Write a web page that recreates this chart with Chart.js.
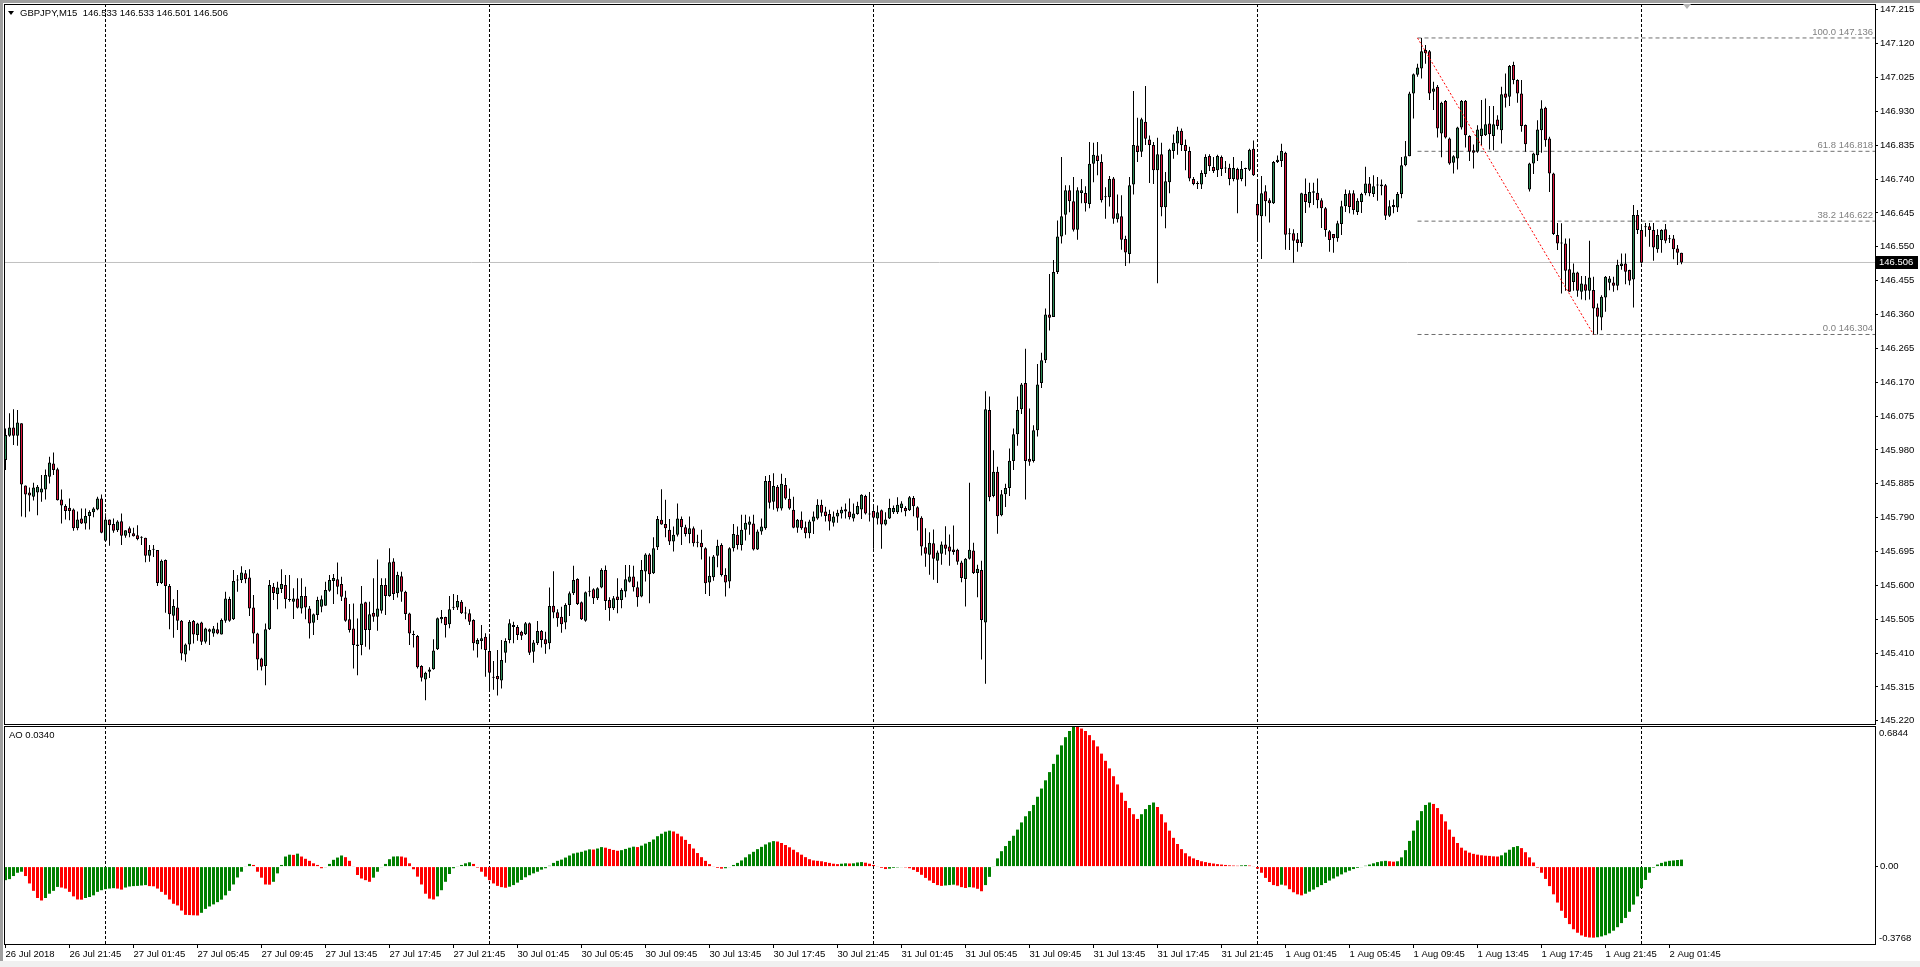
<!DOCTYPE html>
<html>
<head>
<meta charset="utf-8">
<title>GBPJPY,M15</title>
<script src="https://cdn.jsdelivr.net/npm/chart.js@4.4.1/dist/chart.umd.min.js"></script>
<style>
  html, body { margin: 0; padding: 0; background: #fff; }
  body { width: 1920px; height: 967px; position: relative; overflow: hidden; font-family: "Liberation Sans", Arial, sans-serif; }
  .abs { position: absolute; }
  #edgeTop { left: 0; top: 0; width: 1920px; height: 3px; background: #a0a0a0; }
  #edgeLeft { left: 0; top: 0; width: 3px; height: 967px; background: #a0a0a0; }
  #edgeBottom { left: 0; top: 961px; width: 1920px; height: 6px; background: #f0f0f0; }
  #priceBox { left: 0; top: 0; width: 1920px; height: 725px; }
  #aoBox { left: 0; top: 725px; width: 1920px; height: 242px; }
  .frame { border: 1px solid #000; box-sizing: border-box; pointer-events: none; }
  .txt { font-size: 9.5px; line-height: 12px; color: #000; white-space: pre; }
</style>
</head>
<body>
<div id="edgeTop" class="abs"></div>
<div id="edgeLeft" class="abs"></div>
<div id="edgeBottom" class="abs"></div>
<div id="priceBox" class="abs"><canvas id="priceChart"></canvas></div>
<div id="aoBox" class="abs"><canvas id="aoChart"></canvas></div>
<div class="abs frame" style="left:4px;top:4px;width:1872px;height:721px"></div>
<div class="abs frame" style="left:4px;top:726px;width:1872px;height:219px"></div>
<div class="abs" style="left:8px;top:11px;width:0;height:0;border-left:3.5px solid transparent;border-right:3.5px solid transparent;border-top:4px solid #000"></div>
<div class="abs txt" style="left:20px;top:7px">GBPJPY,M15  146.533 146.533 146.501 146.506</div>
<div class="abs txt" style="left:9px;top:729px">AO 0.0340</div>
<div class="abs" style="left:1683px;top:4px;width:0;height:0;border-left:4px solid transparent;border-right:4px solid transparent;border-top:5px solid #b4b4b4"></div>
<script>
  // -----------------------------
  // データ（M15 バー 0 = 26 Jul 17:45）
  // -----------------------------
  const opens = [
    145.952,146.020,146.043,146.020,146.055,145.880,145.861,145.849,145.861,145.861,
    145.869,145.905,145.942,145.926,145.841,145.823,145.818,145.813,145.760,145.788,
    145.774,145.795,145.805,145.813,145.844,145.725,145.785,145.772,145.755,145.780,
    145.739,145.760,145.746,145.741,145.735,145.734,145.683,145.700,145.699,145.607,
    145.671,145.598,145.515,145.538,145.501,145.406,145.434,145.500,145.461,145.496,
    145.442,145.477,145.465,145.477,145.462,145.501,145.562,145.505,145.614,145.615,
    145.634,145.622,145.538,145.465,145.395,145.374,145.477,145.596,145.576,145.590,
    145.601,145.560,145.554,145.563,145.535,145.570,145.535,145.495,145.517,145.540,
    145.543,145.585,145.612,145.617,145.604,145.566,145.505,145.479,145.434,145.433,
    145.553,145.475,145.523,145.512,145.529,145.601,145.570,145.667,145.578,145.626,
    145.582,145.521,145.462,145.458,145.374,145.336,145.358,145.365,145.421,145.505,
    145.511,145.491,145.537,145.538,145.554,145.522,145.522,145.503,145.435,145.444,
    145.456,145.416,145.342,145.346,145.333,145.411,145.447,145.489,145.483,145.470,
    145.463,145.494,145.414,145.438,145.472,145.449,145.438,145.543,145.525,145.512,
    145.496,145.545,145.578,145.618,145.553,145.501,145.582,145.589,145.564,145.594,
    145.643,145.559,145.536,145.569,145.559,145.583,145.610,145.625,145.595,145.569,
    145.639,145.687,145.634,145.707,145.784,145.772,145.756,145.723,145.742,145.786,
    145.763,145.744,145.760,145.720,145.720,145.704,145.608,145.623,145.683,145.713,
    145.629,145.611,145.704,145.742,145.713,145.756,145.770,145.774,145.701,145.751,
    145.760,145.893,145.835,145.877,145.816,145.882,145.843,145.812,145.762,145.784,
    145.763,145.746,145.779,145.788,145.826,145.807,145.800,145.776,145.793,145.802,
    145.814,145.807,145.788,145.800,145.813,145.851,145.800,145.809,145.788,145.811,
    145.771,145.788,145.805,145.805,145.817,145.817,145.811,145.845,145.819,145.790,
    145.707,145.686,145.718,145.669,145.689,145.715,145.709,145.701,145.700,145.664,
    145.618,145.675,145.698,145.635,145.643,145.496,146.092,145.851,145.919,145.797,
    145.856,145.873,145.949,146.024,146.094,146.168,145.955,145.949,146.035,146.168,
    146.232,146.360,146.353,146.479,146.579,146.640,146.709,146.678,146.598,146.701,
    146.701,146.670,146.783,146.806,146.788,146.689,146.689,146.742,146.627,146.636,
    146.572,146.530,146.725,146.834,146.817,146.901,146.851,146.836,146.765,146.810,
    146.661,146.731,146.819,146.840,146.876,146.836,146.819,146.740,146.726,146.725,
    146.754,146.805,146.774,146.765,146.802,146.771,146.772,146.740,146.768,146.740,
    146.768,146.766,146.825,146.670,146.636,146.706,146.681,146.672,146.788,146.791,
    146.814,146.588,146.588,146.571,146.561,146.698,146.673,146.702,146.702,146.681,
    146.658,146.594,146.586,146.574,146.614,146.664,146.700,146.700,146.648,146.676,
    146.700,146.728,146.698,146.723,146.720,146.723,146.637,146.662,146.660,146.698,
    146.779,146.804,146.980,147.033,147.050,147.102,147.099,146.985,146.999,146.868,
    146.959,146.854,146.786,146.798,146.885,146.960,146.861,146.821,146.817,146.861,
    146.863,146.896,146.861,146.907,146.877,146.980,146.971,147.060,147.018,146.980,
    146.892,146.711,146.784,146.807,146.877,146.940,146.854,146.756,146.583,146.560,
    146.559,146.487,146.451,146.478,146.424,146.445,146.427,146.429,146.380,146.352,
    146.408,146.449,146.450,146.441,146.496,146.503,146.485,146.458,146.639,146.597,
    146.605,146.608,146.597,146.543,146.569,146.599,146.571,146.573,146.545,146.533
  ];
  const highs = [
    146.040,146.083,146.094,146.092,146.055,145.880,145.875,145.888,145.882,145.910,
    145.925,145.961,145.973,145.930,145.869,145.828,145.844,145.816,145.807,145.816,
    145.816,145.811,145.819,145.849,145.855,145.802,145.785,145.788,145.783,145.802,
    145.755,145.765,145.762,145.769,145.738,145.734,145.713,145.713,145.699,145.673,
    145.673,145.604,145.561,145.587,145.503,145.437,145.503,145.503,145.495,145.498,
    145.481,145.479,145.486,145.495,145.507,145.582,145.568,145.643,145.629,145.654,
    145.643,145.645,145.573,145.467,145.397,145.493,145.615,145.607,145.610,145.645,
    145.629,145.629,145.592,145.620,145.620,145.596,145.542,145.521,145.568,145.572,
    145.610,145.629,145.632,145.664,145.624,145.585,145.548,145.549,145.507,145.598,
    145.554,145.554,145.620,145.673,145.620,145.620,145.704,145.676,145.638,145.638,
    145.585,145.523,145.473,145.461,145.376,145.358,145.370,145.449,145.510,145.531,
    145.512,145.570,145.576,145.573,145.559,145.540,145.533,145.505,145.452,145.489,
    145.466,145.464,145.388,145.419,145.447,145.452,145.505,145.498,145.489,145.473,
    145.497,145.496,145.447,145.500,145.475,145.470,145.594,145.640,145.533,145.540,
    145.550,145.583,145.655,145.620,145.555,145.583,145.625,145.592,145.595,145.648,
    145.656,145.567,145.570,145.620,145.592,145.657,145.657,145.655,145.611,145.671,
    145.690,145.690,145.735,145.795,145.870,145.840,145.786,145.765,145.830,145.793,
    145.770,145.793,145.765,145.742,145.756,145.707,145.681,145.685,145.728,145.718,
    145.648,145.707,145.772,145.765,145.798,145.798,145.793,145.798,145.757,145.788,
    145.907,145.910,145.915,145.882,145.913,145.901,145.872,145.849,145.786,145.807,
    145.779,145.784,145.807,145.842,145.840,145.821,145.812,145.807,145.812,145.821,
    145.830,145.844,145.830,145.835,145.856,145.854,145.862,145.828,145.824,145.813,
    145.805,145.843,145.824,145.847,145.836,145.822,145.851,145.851,145.822,145.794,
    145.760,145.749,145.757,145.698,145.723,145.766,145.743,145.768,145.703,145.669,
    145.677,145.888,145.720,145.658,145.669,146.145,146.130,145.979,145.933,145.868,
    145.885,145.984,146.040,146.130,146.168,146.264,146.096,146.049,146.221,146.253,
    146.377,146.474,146.513,146.624,146.802,146.723,146.723,146.746,146.717,146.740,
    146.720,146.844,146.842,146.844,146.810,146.717,146.749,146.746,146.697,146.695,
    146.581,146.746,146.987,146.912,146.912,147.001,146.862,146.844,146.856,146.842,
    146.760,146.825,146.865,146.887,146.882,146.851,146.831,146.746,146.734,146.765,
    146.810,146.810,146.802,146.808,146.806,146.791,146.783,146.802,146.772,146.791,
    146.772,146.825,146.848,146.740,146.749,146.723,146.686,146.791,146.806,146.839,
    146.817,146.602,146.599,146.589,146.702,146.742,146.730,146.730,146.742,146.686,
    146.662,146.597,146.586,146.623,146.679,146.711,146.709,146.709,146.686,146.702,
    146.775,146.746,146.751,146.746,146.739,146.726,146.681,146.683,146.704,146.802,
    146.847,146.985,147.036,147.064,147.136,147.116,147.102,147.013,147.004,146.957,
    146.962,146.857,146.807,146.887,146.962,146.962,146.863,146.837,146.891,146.962,
    146.966,146.945,146.945,146.919,146.999,147.036,147.060,147.069,147.020,147.018,
    146.893,146.786,146.814,146.905,146.961,146.943,146.859,146.758,146.617,146.616,
    146.573,146.573,146.503,146.480,146.468,146.468,146.567,146.466,146.391,146.414,
    146.468,146.468,146.466,146.514,146.531,146.531,146.486,146.667,146.653,146.608,
    146.617,146.617,146.617,146.599,146.599,146.614,146.583,146.583,146.555,146.533
  ];
  const lows = [
    145.924,146.017,145.994,145.992,145.793,145.791,145.807,145.838,145.797,145.835,
    145.841,145.886,145.910,145.838,145.774,145.785,145.783,145.753,145.755,145.772,
    145.757,145.757,145.791,145.811,145.746,145.725,145.711,145.748,145.750,145.713,
    145.734,145.735,145.737,145.727,145.713,145.665,145.666,145.680,145.598,145.604,
    145.523,145.477,145.453,145.475,145.390,145.386,145.417,145.437,145.445,145.433,
    145.437,145.433,145.456,145.463,145.462,145.495,145.498,145.503,145.582,145.607,
    145.606,145.514,145.437,145.362,145.361,145.320,145.475,145.559,145.533,145.579,
    145.535,145.554,145.506,145.535,145.521,145.505,145.451,145.461,145.503,145.525,
    145.543,145.582,145.548,145.575,145.556,145.498,145.468,145.367,145.348,145.404,
    145.428,145.420,145.498,145.473,145.521,145.517,145.568,145.559,145.566,145.554,
    145.503,145.433,145.426,145.367,145.330,145.278,145.340,145.363,145.419,145.494,
    145.454,145.480,145.531,145.531,145.520,145.505,145.489,145.417,145.398,145.421,
    145.344,145.309,145.307,145.291,145.311,145.383,145.438,145.438,145.447,145.447,
    145.461,145.405,145.383,145.433,145.426,145.408,145.421,145.508,145.484,145.467,
    145.477,145.514,145.573,145.545,145.503,145.498,145.569,145.548,145.559,145.592,
    145.531,145.501,145.531,145.522,145.536,145.567,145.608,145.583,145.540,145.567,
    145.611,145.550,145.632,145.699,145.770,145.735,145.713,145.695,145.737,145.713,
    145.737,145.718,145.709,145.707,145.673,145.576,145.570,145.613,145.651,145.625,
    145.569,145.592,145.695,145.701,145.698,145.726,145.742,145.698,145.699,145.742,
    145.756,145.816,145.812,145.807,145.810,145.840,145.812,145.760,145.748,145.756,
    145.732,145.732,145.744,145.784,145.793,145.779,145.754,145.765,145.776,145.788,
    145.788,145.785,145.779,145.798,145.786,145.799,145.779,145.703,145.771,145.703,
    145.768,145.786,145.800,145.800,145.805,145.794,145.809,145.794,145.754,145.684,
    145.652,145.630,145.616,145.607,145.658,145.686,145.655,145.686,145.658,145.609,
    145.541,145.673,145.632,145.567,145.392,145.324,145.836,145.847,145.745,145.794,
    145.820,145.851,145.924,145.992,146.081,145.841,145.936,145.945,146.018,146.154,
    146.224,146.315,146.353,146.474,146.559,146.584,146.647,146.593,146.570,146.672,
    146.649,146.658,146.731,146.751,146.674,146.629,146.663,146.615,146.618,146.542,
    146.496,146.504,146.697,146.788,146.802,146.836,146.729,146.726,146.448,146.636,
    146.602,146.700,146.797,146.808,146.819,146.765,146.734,146.723,146.712,146.712,
    146.746,146.763,146.757,146.746,146.749,146.757,146.723,146.734,146.644,146.734,
    146.720,146.763,146.749,146.564,146.516,146.636,146.618,146.670,146.785,146.774,
    146.542,146.541,146.505,146.536,146.550,146.645,146.660,146.667,146.658,146.603,
    146.578,146.536,146.533,146.564,146.583,146.648,146.644,146.641,146.639,146.645,
    146.695,146.692,146.690,146.679,146.695,146.625,146.634,146.644,146.648,146.686,
    146.776,146.804,146.910,147.027,147.022,147.064,146.962,146.934,146.857,146.801,
    146.854,146.780,146.756,146.767,146.879,146.829,146.791,146.770,146.814,146.835,
    146.861,146.823,146.821,146.879,146.840,146.941,146.945,147.006,146.954,146.873,
    146.817,146.705,146.754,146.791,146.814,146.831,146.704,146.583,146.541,146.419,
    146.427,146.424,146.427,146.410,146.402,146.400,146.402,146.304,146.304,146.316,
    146.368,146.428,146.424,146.428,146.486,146.445,146.442,146.380,146.586,146.503,
    146.578,146.550,146.511,146.533,146.533,146.560,146.561,146.515,146.499,146.501
  ];
  const closes = [
    146.022,146.043,146.020,146.057,145.883,145.855,145.852,145.875,145.877,145.872,
    145.910,145.945,145.924,145.839,145.824,145.809,145.809,145.760,145.785,145.774,
    145.795,145.806,145.816,145.844,145.748,145.785,145.769,145.753,145.779,145.739,
    145.755,145.746,145.738,145.730,145.734,145.683,145.699,145.701,145.607,145.669,
    145.598,145.519,145.542,145.501,145.409,145.434,145.498,145.462,145.493,145.442,
    145.479,145.470,145.479,145.465,145.503,145.563,145.501,145.612,145.615,145.636,
    145.617,145.535,145.465,145.392,145.372,145.477,145.601,145.579,145.594,145.604,
    145.561,145.559,145.563,145.537,145.570,145.538,145.493,145.519,145.559,145.561,
    145.587,145.615,145.621,145.596,145.568,145.501,145.475,145.433,145.430,145.549,
    145.475,145.519,145.512,145.535,145.601,145.570,145.665,145.576,145.629,145.582,
    145.520,145.465,145.461,145.370,145.341,145.355,145.364,145.417,145.508,145.511,
    145.489,145.533,145.538,145.556,145.522,145.521,145.498,145.438,145.447,145.452,
    145.419,145.355,145.341,145.337,145.391,145.444,145.494,145.483,145.461,145.459,
    145.494,145.411,145.440,145.472,145.447,145.435,145.542,145.524,145.508,145.491,
    145.545,145.578,145.615,145.548,145.505,145.581,145.583,145.564,145.592,145.643,
    145.556,145.536,145.564,145.559,145.587,145.617,145.625,145.595,145.567,145.643,
    145.687,145.631,145.704,145.786,145.771,145.760,145.723,145.742,145.788,145.763,
    145.744,145.760,145.718,145.721,145.707,145.606,145.627,145.681,145.711,145.629,
    145.608,145.704,145.744,145.713,145.756,145.776,145.779,145.701,145.751,145.765,
    145.893,145.832,145.879,145.816,145.885,145.844,145.816,145.762,145.784,145.760,
    145.746,145.779,145.793,145.826,145.804,145.795,145.779,145.793,145.804,145.812,
    145.807,145.791,145.802,145.823,145.854,145.802,145.799,145.790,145.805,145.771,
    145.785,145.817,145.817,145.826,145.830,145.808,145.847,145.822,145.790,145.709,
    145.689,145.720,145.675,145.692,145.715,145.703,145.695,145.694,145.666,145.621,
    145.675,145.700,145.635,145.647,145.503,146.094,145.847,145.919,145.794,145.856,
    145.873,145.950,146.024,146.092,146.164,145.949,145.947,146.035,146.164,146.232,
    146.360,146.351,146.479,146.579,146.636,146.709,146.678,146.598,146.709,146.709,
    146.672,146.783,146.808,146.791,146.681,146.690,146.740,146.629,146.644,146.570,
    146.534,146.723,146.836,146.816,146.908,146.853,146.836,146.765,146.810,146.661,
    146.734,146.822,146.842,146.876,146.836,146.819,146.742,146.726,146.727,146.757,
    146.802,146.776,146.763,146.805,146.768,146.770,146.740,146.771,146.738,146.768,
    146.769,146.822,146.751,146.638,146.700,146.678,146.672,146.788,146.794,146.819,
    146.584,146.585,146.567,146.561,146.700,146.676,146.704,146.706,146.681,146.658,
    146.597,146.569,146.574,146.616,146.664,146.698,146.662,146.653,146.679,146.698,
    146.728,146.700,146.720,146.722,146.725,146.637,146.664,146.667,146.698,146.779,
    146.804,146.980,147.034,147.053,147.099,147.093,146.980,146.994,146.882,146.954,
    146.857,146.784,146.804,146.885,146.959,146.863,146.817,146.814,146.879,146.882,
    146.894,146.866,146.894,146.889,146.978,146.968,147.057,147.018,146.980,146.889,
    146.838,146.784,146.812,146.879,146.938,146.849,146.756,146.586,146.559,146.559,
    146.483,146.424,146.478,146.427,146.447,146.427,146.464,146.377,146.354,146.410,
    146.466,146.461,146.441,146.500,146.503,146.480,146.455,146.639,146.597,146.505,
    146.606,146.597,146.548,146.583,146.597,146.567,146.572,146.543,146.533,146.506
  ];
  // Awesome Oscillator
  const aoValues = [
    -0.066,-0.061,-0.046,-0.030,-0.025,-0.046,-0.082,-0.118,-0.153,-0.165,
    -0.153,-0.132,-0.118,-0.099,-0.102,-0.107,-0.123,-0.145,-0.160,-0.161,
    -0.153,-0.148,-0.140,-0.123,-0.115,-0.110,-0.107,-0.105,-0.107,-0.112,
    -0.102,-0.097,-0.095,-0.094,-0.092,-0.090,-0.095,-0.096,-0.107,-0.123,
    -0.137,-0.160,-0.181,-0.189,-0.214,-0.235,-0.236,-0.237,-0.238,-0.225,
    -0.206,-0.194,-0.184,-0.173,-0.161,-0.140,-0.118,-0.087,-0.053,-0.025,
    0.003,0.013,0.008,-0.025,-0.054,-0.087,-0.088,-0.074,-0.033,0.008,
    0.049,0.058,0.057,0.063,0.049,0.038,0.028,0.016,0.008,-0.008,
    -0.003,0.013,0.033,0.044,0.054,0.046,0.028,0.003,-0.041,-0.058,
    -0.066,-0.074,-0.054,-0.025,-0.003,0.013,0.036,0.049,0.050,0.049,
    0.044,0.016,-0.013,-0.049,-0.087,-0.132,-0.156,-0.160,-0.145,-0.115,
    -0.074,-0.036,-0.008,0.003,0.008,0.016,0.021,0.013,-0.005,-0.025,
    -0.049,-0.066,-0.082,-0.094,-0.100,-0.103,-0.098,-0.090,-0.078,-0.065,
    -0.052,-0.042,-0.033,-0.025,-0.015,-0.008,0.004,0.018,0.028,0.034,
    0.044,0.054,0.064,0.068,0.072,0.078,0.084,0.083,0.088,0.095,
    0.092,0.086,0.081,0.077,0.080,0.086,0.092,0.097,0.095,0.102,
    0.112,0.120,0.132,0.148,0.160,0.170,0.175,0.171,0.160,0.147,
    0.130,0.110,0.088,0.066,0.046,0.028,0.012,0.002,-0.006,-0.010,
    -0.008,-0.002,0.008,0.018,0.030,0.045,0.060,0.072,0.085,0.096,
    0.108,0.118,0.124,0.122,0.115,0.105,0.094,0.082,0.070,0.058,
    0.046,0.036,0.030,0.028,0.026,0.022,0.018,0.014,0.012,0.014,
    0.016,0.015,0.016,0.020,0.022,0.019,0.014,0.008,0.002,-0.006,
    -0.012,-0.010,-0.006,-0.004,-0.002,-0.004,-0.008,-0.016,-0.026,-0.040,
    -0.055,-0.068,-0.080,-0.090,-0.094,-0.092,-0.090,-0.088,-0.092,-0.100,
    -0.104,-0.100,-0.102,-0.108,-0.120,-0.090,-0.050,0.002,0.040,0.075,
    0.100,0.125,0.150,0.180,0.215,0.245,0.270,0.300,0.340,0.380,
    0.420,0.460,0.500,0.545,0.590,0.630,0.660,0.684,0.680,0.672,
    0.660,0.640,0.615,0.585,0.550,0.515,0.478,0.440,0.400,0.360,
    0.320,0.285,0.255,0.232,0.255,0.280,0.300,0.312,0.290,0.255,
    0.215,0.175,0.140,0.110,0.085,0.065,0.050,0.040,0.032,0.026,
    0.022,0.018,0.015,0.012,0.010,0.008,0.006,0.005,0.004,0.006,
    0.007,0.005,0.003,-0.010,-0.030,-0.055,-0.075,-0.090,-0.095,-0.088,
    -0.092,-0.110,-0.125,-0.135,-0.140,-0.132,-0.122,-0.112,-0.100,-0.090,
    -0.080,-0.068,-0.058,-0.048,-0.038,-0.028,-0.020,-0.012,-0.006,-0.002,
    0.004,0.010,0.016,0.022,0.026,0.028,0.026,0.024,0.026,0.045,
    0.080,0.125,0.175,0.225,0.270,0.300,0.312,0.305,0.285,0.255,
    0.220,0.180,0.145,0.115,0.092,0.078,0.068,0.062,0.058,0.055,
    0.053,0.052,0.050,0.049,0.055,0.068,0.082,0.095,0.100,0.090,
    0.070,0.045,0.020,-0.005,-0.030,-0.060,-0.095,-0.135,-0.175,-0.215,
    -0.250,-0.280,-0.305,-0.322,-0.335,-0.342,-0.345,-0.346,-0.344,-0.340,
    -0.334,-0.325,-0.312,-0.295,-0.275,-0.250,-0.220,-0.185,-0.145,-0.105,
    -0.065,-0.030,-0.005,0.010,0.018,0.024,0.028,0.030,0.032,0.034
  ];

  // 軸ラベル
  const priceTicks = [145.220,145.315,145.410,145.505,145.600,145.695,145.790,145.885,145.980,146.075,146.170,
                      146.265,146.360,146.455,146.550,146.645,146.740,146.835,146.930,147.025,147.120,147.215];
  const timeTickIdx = [0,16,32,48,64,80,96,112,128,144,160,176,192,208,224,240,256,272,288,304,320,336,352,368,384,400,416];
  const timeLabels = ["26 Jul 2018","26 Jul 21:45","27 Jul 01:45","27 Jul 05:45","27 Jul 09:45","27 Jul 13:45","27 Jul 17:45",
                      "27 Jul 21:45","30 Jul 01:45","30 Jul 05:45","30 Jul 09:45","30 Jul 13:45","30 Jul 17:45","30 Jul 21:45",
                      "31 Jul 01:45","31 Jul 05:45","31 Jul 09:45","31 Jul 13:45","31 Jul 17:45","31 Jul 21:45",
                      "1 Aug 01:45","1 Aug 05:45","1 Aug 09:45","1 Aug 13:45","1 Aug 17:45","1 Aug 21:45","2 Aug 01:45"];
  const dayStartIdx = [25, 121, 217, 313, 409];

  // フィボナッチ
  const fibRatios = [100.0, 61.8, 38.2, 0.0];
  const fibPrices = [147.136, 146.818, 146.622, 146.304];
  const fibFromIdx = 353;
  const fibToIdx = 397;

  const priceMin = 145.2111, priceMax = 147.2313;
  const aoMin = -0.3768, aoMax = 0.6844;
  const lastPrice = closes[closes.length - 1];

  // -----------------------------
  // 共通設定
  // -----------------------------
  const xMin = -0.375, xMax = 467.375;
  const fontFamily = '"Liberation Sans", Arial, sans-serif';
  const axisFont = { family: fontFamily, size: 9.5 };
  const bullColor = "#2e8b57";
  const bearColor = "#dc143c";

  function sepAxis() {
    return {
      type: "linear", min: xMin, max: xMax, position: "bottom", offset: false,
      afterBuildTicks: s => { s.ticks = dayStartIdx.map(v => ({ value: v })); },
      afterFit: s => { s.height = 0; s.paddingLeft = 0; s.paddingRight = 0; },
      ticks: { display: false },
      grid: { display: true, offset: false, drawOnChartArea: true, drawTicks: false, color: "#000", lineWidth: 1 },
      border: { display: false, dash: [3, 2] }
    };
  }

  const baseOptions = {
    responsive: true,
    maintainAspectRatio: false,
    animation: false,
    devicePixelRatio: 1,
    events: [],
    plugins: { legend: { display: false }, tooltip: { enabled: false } }
  };

  // -----------------------------
  // ローソク足
  // -----------------------------
  const priceOverlay = {
    id: "priceOverlay",
    afterDraw(chart) {
      const { ctx, chartArea, scales } = chart;
      ctx.save();
      ctx.font = "9.5px " + fontFamily;
      ctx.fillStyle = "#808080";
      ctx.textAlign = "right";
      ctx.textBaseline = "bottom";
      fibRatios.forEach((r, k) => {
        const y = scales.y.getPixelForValue(fibPrices[k]);
        ctx.fillText(r.toFixed(1) + " " + fibPrices[k].toFixed(3), chartArea.right - 2, y - 1);
      });
      const py = Math.round(scales.y.getPixelForValue(lastPrice));
      ctx.fillStyle = "#000";
      ctx.fillRect(chartArea.right + 1, py - 6, 42, 13);
      ctx.fillStyle = "#fff";
      ctx.textAlign = "left";
      ctx.textBaseline = "middle";
      ctx.fillText(lastPrice.toFixed(3), chartArea.right + 4, py + 0.5);
      ctx.restore();
    }
  };

  const fibDatasets = fibPrices.map(p => ({
    type: "line",
    data: [{ x: fibFromIdx, y: p }, { x: xMax, y: p }],
    borderColor: "#6e6e6e", borderWidth: 1, borderDash: [4, 3],
    pointRadius: 0, order: 4, xAxisID: "x", yAxisID: "y"
  }));

  new Chart(document.getElementById("priceChart"), {
    type: "bar",
    data: {
      datasets: [
        {
          label: "body",
          data: closes.map((c, i) => ({ x: i, y: [opens[i], c] })),
          backgroundColor: closes.map((c, i) => c >= opens[i] ? bullColor : bearColor),
          borderColor: "#000", borderWidth: 1, borderSkipped: false,
          barThickness: 3, grouped: false, minBarLength: 1, inflateAmount: 0,
          order: 0, xAxisID: "x", yAxisID: "y"
        },
        {
          label: "wick",
          data: highs.map((h, i) => ({ x: i, y: [lows[i], h] })),
          backgroundColor: "#000",
          barThickness: 1, grouped: false, inflateAmount: 0,
          order: 1, xAxisID: "x", yAxisID: "y"
        },
        {
          type: "line",
          data: [{ x: xMin, y: lastPrice }, { x: xMax, y: lastPrice }],
          borderColor: "#c0c0c0", borderWidth: 1, pointRadius: 0,
          order: 5, xAxisID: "x", yAxisID: "y"
        },
        ...fibDatasets,
        {
          type: "line",
          data: [{ x: fibFromIdx, y: fibPrices[0] }, { x: fibToIdx, y: fibPrices[3] }],
          borderColor: "#ff0000", borderWidth: 1, borderDash: [2, 2],
          pointRadius: 0, order: -1, xAxisID: "x", yAxisID: "y"
        }
      ]
    },
    options: {
      ...baseOptions,
      layout: { padding: { left: 4, top: 4, right: 0, bottom: 1 } },
      scales: {
        x: { type: "linear", min: xMin, max: xMax, display: false, offset: false },
        sep: sepAxis(),
        y: {
          position: "right", min: priceMin, max: priceMax,
          afterBuildTicks: s => { s.ticks = priceTicks.map(v => ({ value: v })); },
          afterFit: s => { s.width = 45; s.paddingTop = 0; s.paddingBottom = 0; },
          ticks: { callback: v => Number(v).toFixed(3), color: "#000", font: axisFont, padding: 2, autoSkip: false },
          grid: { drawOnChartArea: false, drawTicks: true, tickLength: 3, color: "#000" },
          border: { display: true, color: "#000" }
        }
      }
    },
    plugins: [priceOverlay]
  });

  // -----------------------------
  // AO
  // -----------------------------
  const aoOverlay = {
    id: "aoOverlay",
    afterDraw(chart) {
      const { ctx, chartArea } = chart;
      ctx.save();
      ctx.font = "9.5px " + fontFamily;
      ctx.fillStyle = "#000";
      ctx.textAlign = "left";
      ctx.textBaseline = "middle";
      ctx.fillText(aoMax.toFixed(4), chartArea.right + 4, chartArea.top + 7);
      ctx.fillText(aoMin.toFixed(4), chartArea.right + 4, chartArea.bottom - 6);
      ctx.restore();
    }
  };

  new Chart(document.getElementById("aoChart"), {
    type: "bar",
    data: {
      datasets: [{
        label: "AO",
        data: aoValues.map((v, i) => ({ x: i, y: v })),
        backgroundColor: aoValues.map((v, i) => (i === 0 || v > aoValues[i - 1]) ? "#008000" : "#ff0000"),
        barThickness: 3, grouped: false, inflateAmount: 0, borderWidth: 0,
        xAxisID: "x", yAxisID: "y"
      }]
    },
    options: {
      ...baseOptions,
      layout: { padding: { left: 4, top: 1, right: 0, bottom: 0 } },
      scales: {
        x: {
          type: "linear", min: xMin, max: xMax, position: "bottom", offset: false,
          afterBuildTicks: s => { s.ticks = timeTickIdx.map(v => ({ value: v })); },
          afterFit: s => { s.height = 23; s.paddingLeft = 0; s.paddingRight = 0; },
          ticks: {
            autoSkip: false, maxRotation: 0, minRotation: 0, align: "start", padding: 1,
            color: "#000", font: axisFont,
            callback: (v, i) => timeLabels[i]
          },
          grid: { offset: false, drawOnChartArea: false, drawTicks: true, tickLength: 4, color: "#000" },
          border: { display: true, color: "#000" }
        },
        sep: sepAxis(),
        y: {
          position: "right", min: aoMin, max: aoMax,
          afterBuildTicks: s => { s.ticks = [{ value: 0 }]; },
          afterFit: s => { s.width = 45; s.paddingTop = 0; s.paddingBottom = 0; },
          ticks: { callback: v => Number(v).toFixed(2), color: "#000", font: axisFont, padding: 2 },
          grid: { drawOnChartArea: false, drawTicks: true, tickLength: 3, color: "#000" },
          border: { display: true, color: "#000" }
        }
      }
    },
    plugins: [aoOverlay]
  });
</script>
</body>
</html>
